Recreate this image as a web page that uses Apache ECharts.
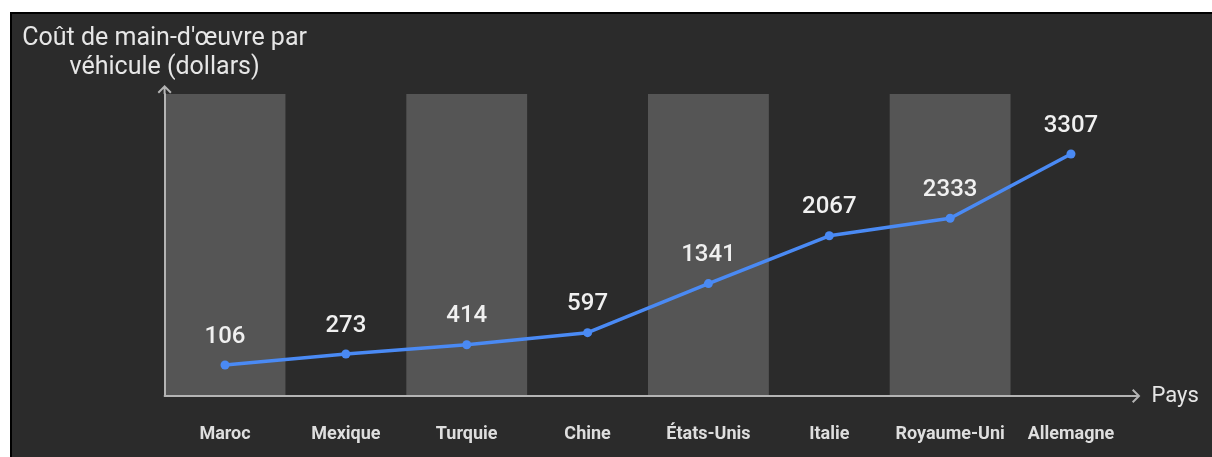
<!DOCTYPE html>
<html>
<head>
<meta charset="utf-8">
<script src="https://cdn.jsdelivr.net/npm/echarts@6/dist/echarts.min.js"></script>
<style>
  html, body { margin: 0; padding: 0; background: #fff; }
  #panel { position: absolute; left: 10px; top: 12px; width: 1202px; height: 445px;
           box-sizing: border-box; background: #2b2b2b;
           border-left: 2px solid #000; border-top: 2px solid #000; }
  #chart { position: absolute; left: 0; top: 0; width: 1212px; height: 457px; }
</style>
</head>
<body>
<div id="panel"></div>
<div id="chart"></div>
<script>
// pays et coût de main-d'oeuvre par véhicule
var categories = ['Maroc', 'Mexique', 'Turquie', 'Chine', 'États-Unis', 'Italie', 'Royaume-Uni', 'Allemagne'];
var costs = [106, 273, 414, 597, 1341, 2067, 2333, 3307];

// flèche ouverte pour le bout des axes
var arrow = 'path://M7,0 L14,7 L12.6,8.4 L7,2.8 L1.4,8.4 L0,7 Z M6,1 L8,1 L8,9 L6,9 Z';

var chart = echarts.init(document.getElementById('chart'));
chart.setOption({
  backgroundColor: 'transparent',
  textStyle: { fontFamily: 'Roboto' },
  grid: { left: 164.6, right: 80.6, top: 94, bottom: 61 },
  xAxis: {
    type: 'category',
    data: categories,
    boundaryGap: true,
    name: 'Pays',
    nameLocation: 'end',
    nameGap: 20,
    nameTextStyle: { color: '#e6e6e6', fontSize: 22, verticalAlign: 'middle' },
    axisLine: {
      show: true,
      onZero: false,
      symbol: ['none', arrow],
      symbolSize: [14, 9],
      symbolOffset: [0, 4.5],
      lineStyle: { color: '#b4b4b4', width: 2 }
    },
    axisTick: { show: false },
    axisLabel: { interval: 0, color: '#dedede', fontSize: 18, fontWeight: 'bold', margin: 29 },
    splitLine: { show: false },
    splitArea: { show: true, interval: 0, areaStyle: { color: ['#555555', 'rgba(0,0,0,0)'] } }
  },
  yAxis: {
    type: 'value',
    min: -364,
    max: 4218,
    name: "Coût de main-d'œuvre par\nvéhicule (dollars)",
    nameLocation: 'end',
    nameGap: 12,
    nameTextStyle: { color: '#e6e6e6', fontSize: 25, lineHeight: 29, align: 'center' },
    axisLine: {
      show: true,
      onZero: false,
      symbol: ['none', arrow],
      symbolSize: [14, 9],
      symbolOffset: [0, 4.5],
      lineStyle: { color: '#b4b4b4', width: 2 }
    },
    axisTick: { show: false },
    axisLabel: { show: false },
    splitLine: { show: false }
  },
  series: [{
    type: 'line',
    data: costs,
    symbol: 'circle',
    symbolSize: 9,
    lineStyle: { color: '#4a8af4', width: 3.5 },
    itemStyle: { color: '#4a8af4' },
    label: { show: true, position: 'top', distance: 12, color: '#f0f0f0', fontSize: 24, fontWeight: 500 }
  }]
});
</script>
</body>
</html>
